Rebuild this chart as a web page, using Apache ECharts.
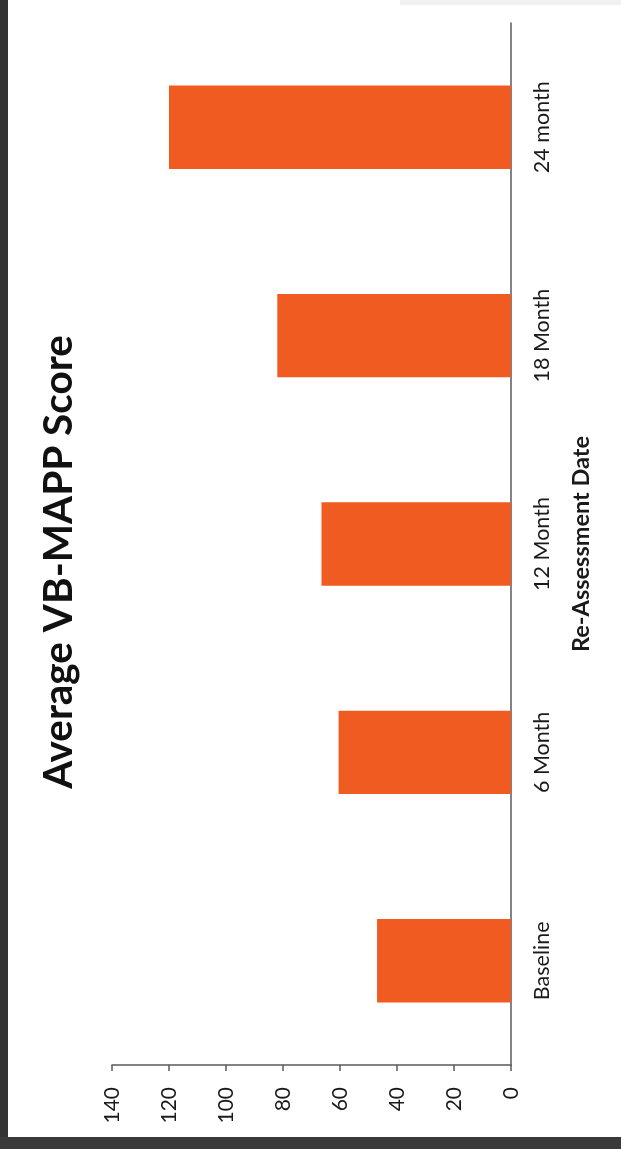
<!DOCTYPE html>
<html>
<head>
<meta charset="utf-8">
<script src="https://cdn.jsdelivr.net/npm/echarts@6/dist/echarts.min.js"></script>
<style>
  html, body { margin: 0; padding: 0; background: #ffffff; }
  #chart { width: 621px; height: 1149px; }
</style>
</head>
<body>
<div id="chart"></div>
<script>
// Assessment points and average scores
const categories = ['Baseline', '6 Month', '12 Month', '18 Month', '24 month'];
const scores = [47, 60.5, 66.5, 82, 120];

// Score axis range
const scoreMin = 0;
const scoreMax = 140;
const scoreStep = 20;

const titleText = 'Average VB-MAPP Score';
const axisTitle = 'Re-Assessment Date';

const chart = echarts.init(document.getElementById('chart'), null, { renderer: 'canvas' });

const axisColor = '#5a5a5a';
const textColor = '#1a1a1a';
const labelFont = 'Lato, "Open Sans", sans-serif';

chart.setOption({
  backgroundColor: '#ffffff',
  animation: false,
  grid: { left: 112, right: 110, top: 23, bottom: 84, containLabel: false },
  xAxis: {
    type: 'value',
    inverse: true,
    min: scoreMin,
    max: scoreMax,
    interval: scoreStep,
    position: 'bottom',
    splitLine: { show: false },
    axisLine: { show: true, lineStyle: { color: axisColor, width: 1.5 } },
    axisTick: { show: true, length: 6, lineStyle: { color: axisColor, width: 1.5 } },
    axisLabel: {
      rotate: 90,
      margin: 22,
      color: textColor,
      fontSize: 21,
      fontFamily: labelFont
    }
  },
  yAxis: {
    type: 'category',
    data: categories,
    position: 'right',
    boundaryGap: true,
    axisLine: { show: true, lineStyle: { color: axisColor, width: 1.5 } },
    axisTick: { show: false },
    axisLabel: {
      rotate: 90,
      margin: 20,
      color: textColor,
      fontSize: 21.5,
      fontFamily: labelFont
    },
    name: axisTitle,
    nameLocation: 'middle',
    nameGap: 58,
    nameTextStyle: {
      color: textColor,
      fontSize: 23.5,
      fontWeight: 'bold',
      fontFamily: labelFont
    }
  },
  series: [{
    type: 'bar',
    data: scores,
    barWidth: '40%',
    itemStyle: { color: '#EF5B20' }
  }],
  graphic: [
    {
      type: 'text',
      x: 59,
      y: 562,
      rotation: Math.PI / 2,
      style: {
        text: titleText,
        fill: '#111111',
        font: 'bold 40.5px Lato, sans-serif',
        align: 'center',
        verticalAlign: 'middle'
      }
    },
    // frame edges
    { type: 'rect', shape: { x: 0, y: 0, width: 8, height: 1149 }, style: { fill: '#333333' } },
    { type: 'rect', shape: { x: 0, y: 1137, width: 621, height: 12 }, style: { fill: '#3a3a3a' } },
    { type: 'rect', shape: { x: 400, y: 0, width: 221, height: 5 }, style: { fill: '#f1f1f1' } }
  ]
});
</script>
</body>
</html>
